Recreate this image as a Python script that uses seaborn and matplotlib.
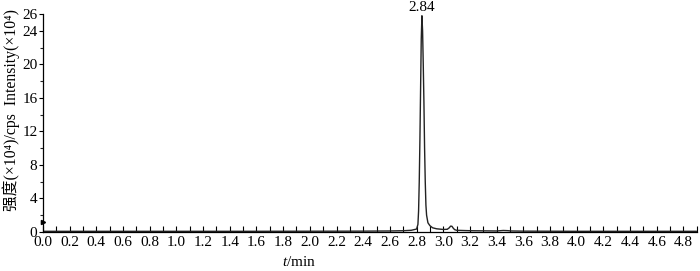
import matplotlib
matplotlib.use("Agg")
import matplotlib.pyplot as plt
import seaborn as sns
import pandas as pd
from matplotlib.ticker import MultipleLocator

# ---- data ----
time_min = [0.00, 0.50, 1.00, 1.50, 2.00, 2.40, 2.60, 2.70, 2.76, 2.80, 2.81, 2.815,
            2.82, 2.825, 2.83, 2.835, 2.84, 2.845, 2.85, 2.855, 2.86, 2.865,
            2.87, 2.875, 2.885, 2.90, 2.92, 2.95, 3.00, 3.03, 3.045, 3.055,
            3.065, 3.075, 3.085, 3.10, 3.20, 3.40, 3.45, 3.48, 3.51, 3.60,
            4.00, 4.50, 4.90]
intensity = [0.08, 0.08, 0.08, 0.08, 0.09, 0.10, 0.12, 0.15, 0.20, 0.35, 0.9, 2.5,
             6.0, 11.0, 17.0, 23.0, 25.8, 24.0, 20.0, 15.5, 10.0, 6.0,
             3.2, 2.0, 1.1, 0.75, 0.5, 0.38, 0.30, 0.32, 0.50, 0.70,
             0.68, 0.45, 0.28, 0.20, 0.15, 0.12, 0.18, 0.16, 0.12, 0.10,
             0.08, 0.08, 0.08]
peak_rt = 2.84
peak_label = "2.84"
y_ticks = [0, 4, 8, 12, 16, 20, 24, 26]
x_label = r"$\it{t}$/min"
y_label = "强度(×10⁴)/cps  Intensity(×10⁴)"

df = pd.DataFrame({"t": time_min, "I": intensity})

sns.set_theme(style="ticks")
plt.rcParams["font.family"] = ["Liberation Serif", "Noto Sans CJK SC", "DejaVu Sans"]
plt.rcParams["mathtext.fontset"] = "custom"
plt.rcParams["mathtext.rm"] = "Liberation Serif"
plt.rcParams["mathtext.it"] = "Liberation Serif:italic"

fig = plt.figure(figsize=(7.0, 2.71), dpi=100)
ax = fig.add_axes([0.0614, 0.144, 0.934, 0.804])

sns.lineplot(data=df, x="t", y="I", ax=ax, color="#222222", linewidth=1.0)

ax.set_xlim(0, 4.9)
ax.set_ylim(0, 26)
ax.xaxis.set_major_locator(MultipleLocator(0.2))
ax.xaxis.set_minor_locator(MultipleLocator(0.1))
ax.set_xticks(ax.get_xticks())
ax.set_xticklabels([f"{v:.1f}" for v in ax.get_xticks()])
ax.set_xlim(0, 4.9)
ax.set_yticks(y_ticks)
ax.yaxis.set_minor_locator(MultipleLocator(2))

ax.tick_params(axis="x", which="both", direction="in", length=4, width=0.8,
               labelsize=11, pad=3, colors="black")
ax.tick_params(axis="y", which="major", direction="out", length=3, width=0.8,
               labelsize=11, pad=1, colors="black")
ax.tick_params(axis="y", which="minor", direction="out", length=2, width=0.8)

for s in ["top", "right"]:
    ax.spines[s].set_visible(False)
for s in ["left", "bottom"]:
    ax.spines[s].set_linewidth(0.9)
    ax.spines[s].set_color("black")

ax.set_xlabel(x_label, fontsize=11, color="black")
ax.xaxis.label.set_va("center")
ax.xaxis.set_label_coords(0.392, -0.137)
ax.set_ylabel(y_label, fontsize=11.3, color="black")
ax.yaxis.set_label_coords(-0.035, 0.56)

ax.annotate(peak_label, xy=(peak_rt, 25.8), xytext=(0, 1), textcoords="offset points",
            ha="center", va="bottom", fontsize=11, color="black", annotation_clip=False)

# small marker on the left axis
ax.plot([0.0], [1.2], marker=">", color="black", markersize=3, clip_on=False)

fig.savefig("out.png", dpi=100)
